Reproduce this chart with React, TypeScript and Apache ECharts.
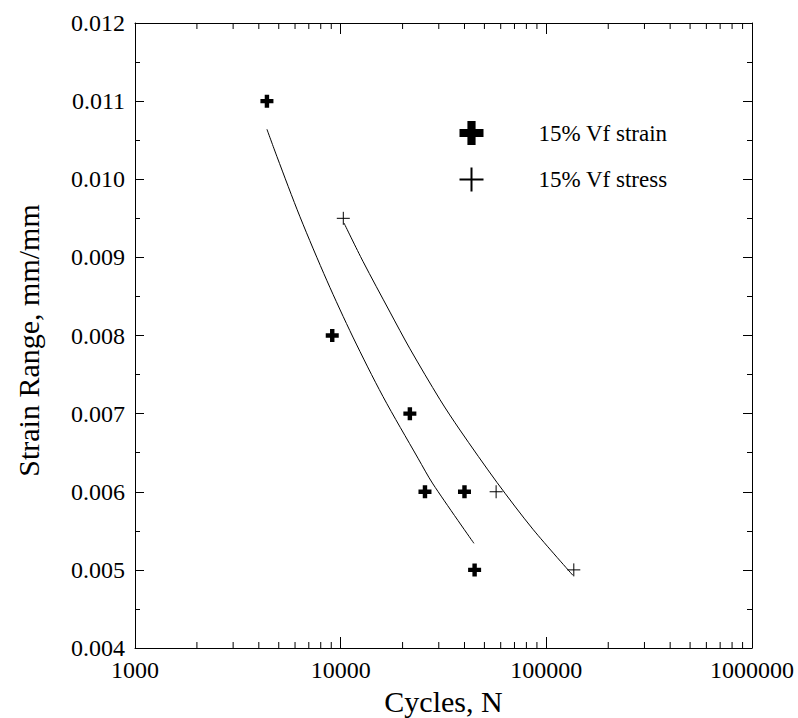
import React, { useEffect, useRef } from "react";
import * as echarts from "echarts";

const strainCycles = [4380, 9100, 21700, 25700, 40000, 44800];
const strainValues = [0.011, 0.008, 0.007, 0.006, 0.006, 0.005];
const stressCycles = [10300, 57000, 136000];
const stressValues = [0.0095, 0.006, 0.005];

// Fitted curves
const strainFitCycles = [4380, 4900, 6340, 8580, 11470, 16050, 23760, 28100, 44460];
const strainFitValues = [0.01064, 0.01029, 0.00952, 0.0087, 0.00798, 0.00722, 0.00643, 0.0061, 0.00534];
const stressFitCycles = [10380, 12830, 17370, 21720, 30390, 38020, 57530, 86070, 134700];
const stressFitValues = [0.00944, 0.00895, 0.0083, 0.00783, 0.00718, 0.00679, 0.00612, 0.00552, 0.00493];

// Axis ticks
const xMin = 1000;
const xMax = 1000000;
const yMin = 0.004;
const yMax = 0.012;
const yInterval = 0.001;
const minorXTicks = [
  2000, 3000, 4000, 5000, 6000, 7000, 8000, 9000,
  20000, 30000, 40000, 50000, 60000, 70000, 80000, 90000,
  200000, 300000, 400000, 500000, 600000, 700000, 800000, 900000,
];

const seriesNames = ["15% Vf strain", "15% Vf stress"];
const xAxisTitle = "Cycles, N";
const yAxisTitle = "Strain Range, mm/mm";

const FONT = '"Liberation Serif", "Times New Roman", Times, serif';
const THICK_PLUS = "path://M3.3,0H6.7V3.3H10V6.7H6.7V10H3.3V6.7H0V3.3H3.3Z";
const THIN_PLUS = "path://M0,5L10,5M5,0L5,10";

export default function App() {
  const ref = useRef<HTMLDivElement>(null);

  useEffect(() => {
    if (!ref.current) return;
    const chart = echarts.init(ref.current, undefined, { renderer: "svg" });

    const axisLine = { show: true, lineStyle: { color: "#000", width: 1 } };

    const option: any = {
      animation: false,
      backgroundColor: "#fff",
      textStyle: { fontFamily: FONT, color: "#000" },
      grid: {
        left: 135,
        top: 23,
        right: 46,
        bottom: 70,
        containLabel: false,
        outerBoundsMode: "none",
      },
      legend: {
        orient: "vertical",
        left: 452,
        top: 116,
        itemWidth: 124,
        itemHeight: 24,
        itemGap: 20,
        symbolKeepAspect: true,
        selectedMode: false,
        textStyle: { fontFamily: FONT, fontSize: 23, color: "#000" },
        data: [
          { name: seriesNames[0], icon: THICK_PLUS },
          { name: seriesNames[1], icon: THIN_PLUS },
        ],
      },
      xAxis: [
        {
          type: "log",
          logBase: 10,
          min: xMin,
          max: xMax,
          position: "bottom",
          name: xAxisTitle,
          nameLocation: "middle",
          nameGap: 26,
          nameTextStyle: { fontFamily: FONT, fontSize: 30, color: "#000" },
          axisLine,
          axisTick: { show: true, inside: true, length: 11, lineStyle: { color: "#000" } },
          axisLabel: {
            show: true,
            margin: 10,
            fontFamily: FONT,
            fontSize: 24,
            color: "#000",
            formatter: (v: number) => String(Math.round(v)),
          },
          splitLine: { show: false },
        },
        {
          type: "log",
          logBase: 10,
          min: xMin,
          max: xMax,
          position: "top",
          axisLine,
          axisTick: { show: true, inside: true, length: 11, lineStyle: { color: "#000" } },
          axisLabel: { show: false },
          splitLine: { show: false },
        },
      ],
      yAxis: [
        {
          type: "value",
          min: yMin,
          max: yMax,
          interval: yInterval,
          position: "left",
          name: yAxisTitle,
          nameLocation: "middle",
          nameGap: 92,
          nameRotate: 90,
          nameTextStyle: { fontFamily: FONT, fontSize: 30, color: "#000", padding: [0, 10, 0, 0] },
          axisLine,
          axisTick: { show: true, inside: true, length: 9, lineStyle: { color: "#000" } },
          minorTick: { show: true, splitNumber: 2, length: 5, lineStyle: { color: "#000" } },
          axisLabel: {
            show: true,
            margin: 10,
            fontFamily: FONT,
            fontSize: 24,
            color: "#000",
            formatter: (v: number) => v.toFixed(3),
          },
          splitLine: { show: false },
          minorSplitLine: { show: false },
        },
        {
          type: "value",
          min: yMin,
          max: yMax,
          interval: yInterval,
          position: "right",
          axisLine,
          axisTick: { show: true, inside: true, length: 9, lineStyle: { color: "#000" } },
          minorTick: { show: true, splitNumber: 2, length: 5, lineStyle: { color: "#000" } },
          axisLabel: { show: false },
          splitLine: { show: false },
          minorSplitLine: { show: false },
        },
      ],
      series: [
        {
          type: "custom",
          name: "minorTicks",
          silent: true,
          xAxisIndex: 0,
          yAxisIndex: 0,
          clip: false,
          data: minorXTicks.map((v) => [v, yMin]),
          renderItem: (_params: any, api: any) => {
            const v = api.value(0);
            const pb = api.coord([v, yMin]);
            const pt = api.coord([v, yMax]);
            return {
              type: "group",
              children: [
                {
                  type: "line",
                  shape: { x1: pb[0], y1: pb[1], x2: pb[0], y2: pb[1] - 6 },
                  style: { stroke: "#000", lineWidth: 1 },
                },
                {
                  type: "line",
                  shape: { x1: pt[0], y1: pt[1], x2: pt[0], y2: pt[1] + 6 },
                  style: { stroke: "#000", lineWidth: 1 },
                },
              ],
            };
          },
        },
        {
          type: "line",
          name: "strainFit",
          data: strainFitCycles.map((c, i) => [c, strainFitValues[i]]),
          showSymbol: false,
          symbol: "none",
          smooth: 0.3,
          lineStyle: { color: "#000", width: 1 },
          silent: true,
          z: 2,
        },
        {
          type: "line",
          name: "stressFit",
          data: stressFitCycles.map((c, i) => [c, stressFitValues[i]]),
          showSymbol: false,
          symbol: "none",
          smooth: 0.3,
          lineStyle: { color: "#000", width: 1 },
          silent: true,
          z: 2,
        },
        {
          type: "scatter",
          name: seriesNames[0],
          data: strainCycles.map((c, i) => [c, strainValues[i]]),
          symbol: THICK_PLUS,
          symbolSize: 13,
          itemStyle: { color: "#000", borderWidth: 0, opacity: 1 },
          z: 3,
        },
        {
          type: "scatter",
          name: seriesNames[1],
          data: stressCycles.map((c, i) => [c, stressValues[i]]),
          symbol: THIN_PLUS,
          symbolSize: 13,
          itemStyle: { color: "none", borderColor: "#000", borderWidth: 1, opacity: 1 },
          z: 3,
        },
      ],
    };

    chart.setOption(option);
    return () => {
      chart.dispose();
    };
  }, []);

  return (
    <div
      ref={ref}
      style={{ position: "fixed", left: 0, top: 0, width: 798, height: 718, background: "#fff" }}
    />
  );
}
